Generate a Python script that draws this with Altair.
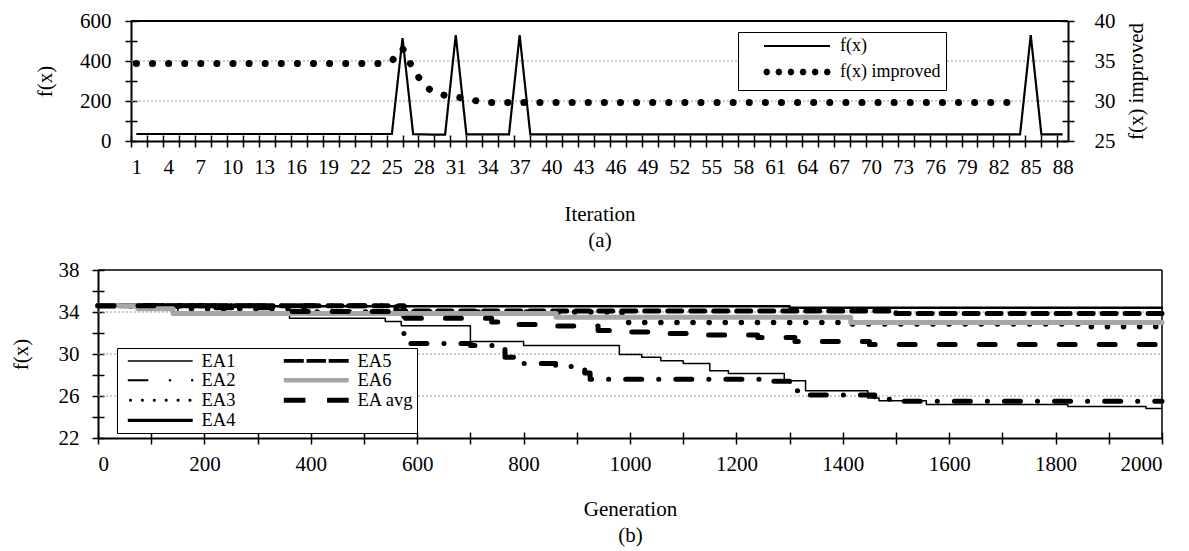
import altair as alt
import pandas as pd

FONT = "Liberation Serif"
GRAY = "#a6a6a6"
GRID_COLOR = "#9a9a9a"

# ---------------- (a) values ----------------
ITERATIONS = list(range(1, 89))
FX = ([35] * 25 + [515, 34, 33, 32, 32, 530] + [33] * 5 + [530] + [33] * 47
      + [530, 33, 33, 33])
IMPROVED_ITER = list(range(1, 85))
FX_IMPROVED = ([34.7] * 24 + [35.0, 36.6, 34.0, 32.0, 31.0, 30.7, 30.5, 30.3, 30.0]
               + [29.8] * 51)
A_LABEL_POS = list(range(1, 89, 3))
A_TICK_POS = [0.5 + 1.5 * k for k in range(59)]
A_LEFT_TICKS = [0, 100, 200, 300, 400, 500, 600]
A_RIGHT_TICKS = [25, 27.5, 30, 32.5, 35, 37.5, 40]
A_GRID = [200, 400]
A_TOP = [600]
A_SERIES = ["f(x)", "f(x) improved"]

# ---------------- (b) values ----------------
B_SERIES = ["EA1", "EA2", "EA3", "EA4", "EA5", "EA6", "EA avg"]
EA1_GEN = [0, 150, 360, 540, 570, 700, 800, 980, 1022, 1058, 1100, 1150, 1185,
           1290, 1330, 1447, 1468, 1557, 1823, 1970, 2000]
EA1_VAL = [34.6, 34.0, 33.4, 33.1, 32.7, 31.2, 30.8, 29.95, 29.7, 29.35, 29.1,
           28.4, 28.15, 27.45, 26.5, 25.8, 25.55, 25.2, 25.0, 24.8, 24.8]
EA2_GEN = [0, 575, 700, 765, 790, 860, 915, 925, 1265, 1300, 1320, 1460, 1500, 2000]
EA2_VAL = [34.6, 31.0, 30.8, 29.7, 29.1, 28.8, 28.2, 27.6, 27.4, 26.5, 26.1,
           25.7, 25.5, 25.5]
EA3_GEN = [0, 150, 400, 985, 1400, 1850, 2000]
EA3_VAL = [34.6, 34.3, 34.0, 33.0, 32.85, 32.6, 32.6]
EA4_GEN = [0, 300, 1300, 2000]
EA4_VAL = [34.7, 34.55, 34.4, 34.4]
EA5_GEN = [0, 560, 1500, 2000]
EA5_VAL = [34.6, 34.1, 33.85, 33.85]
EA6_GEN = [0, 75, 141, 861, 1415, 2000]
EA6_VAL = [34.6, 34.3, 33.85, 33.5, 33.0, 33.0]
EAAVG_GEN = [0, 200, 350, 575, 740, 790, 860, 940, 995, 1060, 1140, 1240, 1310,
             1450, 2000]
EAAVG_VAL = [34.6, 34.4, 34.05, 33.4, 33.05, 32.8, 32.67, 32.25, 32.1, 31.95,
             31.8, 31.56, 31.2, 30.9, 30.9]
B_X_TICKS = list(range(0, 2001, 100))
B_Y_TICKS = [22, 24, 26, 28, 30, 32, 34, 36, 38]
B_GRID = [26, 30, 34]
B_TOP = [38]
B_RIGHT = [2000]

B_COLORS = ["black", "black", "black", "black", "black", GRAY, "black"]
B_DASHES = [[1, 0], [16, 17, 0.1, 17], [0.1, 16], [1, 0], [14, 9], [1, 0], [16, 24]]
B_WIDTHS = [1.5, 5, 5.5, 2.5, 5, 5, 5]


# legend symbol paths (unit box, scaled by Vega): tiny octagons stroked thick = dots
def dots(xs, r=0.03):
    k = r * 0.7071
    out = []
    for x in xs:
        pts = [(x + r, 0), (x + k, k), (x, r), (x - k, k), (x - r, 0),
               (x - k, -k), (x, -r), (x + k, -k)]
        out.append("M" + "L".join(f"{px:.4f},{py:.4f}" for px, py in pts) + "Z")
    return "".join(out)


SOLID_PATH = "M-6,0L6,0"
DOT_PATH = dots([-5.5, -3.3, -1.1, 1.1, 3.3, 5.5])
B_PATHS = [
    SOLID_PATH,
    "M-6,0L-2.2,0" + dots([1.8, 5.9]),
    DOT_PATH,
    SOLID_PATH,
    "M-6,0L-2.3,0M-1.8,0L1.8,0M2.3,0L6,0",
    SOLID_PATH,
    "M-6,0L-2,0M2,0L6,0",
]

common = dict(labelFont=FONT, labelFontSize=21, labelColor="black",
              titleFont=FONT, titleFontSize=21, titleColor="black",
              titleFontWeight="normal", grid=False)
tick_only = dict(labels=False, domain=False, ticks=True, tickSize=12,
                 tickWidth=1.5, tickColor="black", title=None, grid=False)

# ---------------- chart (a) ----------------
df_fx = pd.DataFrame({"iter": ITERATIONS, "val": FX, "series": A_SERIES[0]})
df_imp = pd.DataFrame({"iter": IMPROVED_ITER, "val": FX_IMPROVED, "series": A_SERIES[1]})
df_a_all = pd.concat([df_fx, df_imp], ignore_index=True)

xa = alt.Scale(domain=[0.5, 88.5], range=[33, 970], nice=False, zero=False)
ya_left = alt.Scale(domain=[0, 600], nice=False, zero=False)
ya_right = alt.Scale(domain=[25, 40], nice=False, zero=False)

AX_A_TICKS = alt.Axis(orient="bottom", values=A_TICK_POS, offset=-6, **tick_only)
AX_A_LEFT_TICKS = alt.Axis(orient="left", values=A_LEFT_TICKS, offset=-39, **tick_only)
AX_A_LEFT = alt.Axis(orient="left", offset=-33, values=A_LEFT_TICKS, ticks=False,
                     labelExpr="datum.value % 200 == 0 ? datum.label : ''",
                     domainColor="black", domainWidth=2, labelPadding=20,
                     title="f(x)", titleX=-86, titleY=60, titleAngle=270,
                     titleAlign="center", titleBaseline="middle", **common)
AX_A_LABELS = alt.Axis(orient="bottom", values=A_LABEL_POS, ticks=False, domain=True,
                       domainColor="black", domainWidth=2, labelPadding=15,
                       title=["Iteration", "(a)"], titlePadding=26,
                       titleLineHeight=26, **common)
AX_A_RIGHT = alt.Axis(orient="right", values=A_RIGHT_TICKS, ticks=False,
                      labelExpr="datum.value % 5 == 0 ? datum.label : ''",
                      domainColor="black", domainWidth=2, labelPadding=26,
                      title="f(x) improved", titleX=68, titleY=60, titleAngle=270,
                      titleAlign="center", titleBaseline="middle", **common)
AX_A_RIGHT_TICKS = alt.Axis(orient="right", values=A_RIGHT_TICKS, offset=-6, **tick_only)

legend_a = alt.Legend(title=None, orient="none", legendX=640, legendY=11,
                      symbolSize=121, symbolStrokeColor="black",
                      labelFont=FONT, labelFontSize=18, labelColor="black",
                      padding=5, rowPadding=4, labelOffset=34, symbolOffset=45,
                      strokeColor="black", fillColor="white")

grid_a = alt.Chart(pd.DataFrame({"g": A_GRID})).mark_rule(
    color=GRID_COLOR, strokeDash=[2, 2], strokeWidth=1
).encode(
    x=alt.X(datum=0.5, type="quantitative", scale=xa, axis=AX_A_TICKS),
    x2=alt.X2(datum=88.5),
    y=alt.Y("g:Q", scale=ya_left, axis=AX_A_LEFT_TICKS),
)
top_a = alt.Chart(pd.DataFrame({"t": A_TOP})).mark_rule(
    color="black", strokeWidth=2
).encode(
    x=alt.X(datum=0.5, type="quantitative", scale=xa, axis=AX_A_TICKS),
    x2=alt.X2(datum=88.5),
    y=alt.Y("t:Q", scale=ya_left, axis=None),
)
fx_line = alt.Chart(df_fx).mark_line(color="black", strokeWidth=2.2).encode(
    x=alt.X("iter:Q", scale=xa, axis=AX_A_TICKS),
    y=alt.Y("val:Q", scale=ya_left, axis=AX_A_LEFT),
)
hidden_a = alt.Chart(df_a_all).mark_point(opacity=0, filled=False).encode(
    x=alt.X("iter:Q", scale=xa, axis=AX_A_TICKS),
    y=alt.Y("val:Q", scale=ya_left, axis=None),
    shape=alt.Shape("series:N", scale=alt.Scale(domain=A_SERIES,
                                                range=[SOLID_PATH, DOT_PATH]),
                    legend=legend_a),
    strokeWidth=alt.StrokeWidth("series:N", scale=alt.Scale(domain=A_SERIES,
                                                            range=[2.2, 6]),
                                legend=legend_a),
    color=alt.value("black"),
)
imp_line = alt.Chart(df_imp).mark_line(
    color="black", strokeDash=[0.1, 16], strokeWidth=7, strokeCap="round"
).encode(
    x=alt.X("iter:Q", scale=xa, axis=AX_A_LABELS),
    y=alt.Y("val:Q", scale=ya_right, axis=AX_A_RIGHT),
)
imp_ticks = alt.Chart(df_imp).mark_line(opacity=0).encode(
    x=alt.X("iter:Q", scale=xa, axis=AX_A_LABELS),
    y=alt.Y("val:Q", scale=ya_right, axis=AX_A_RIGHT_TICKS),
)

left_group = alt.layer(grid_a, top_a, fx_line, hidden_a).resolve_axis(y="independent")
right_group = alt.layer(imp_line, imp_ticks).resolve_axis(y="independent")

chart_a = (
    alt.layer(left_group, right_group)
    .resolve_scale(y="independent")
    .resolve_axis(x="independent", y="independent")
    .properties(width=970, height=120)
)

# ---------------- chart (b) ----------------
B_GENS = [EA1_GEN, EA2_GEN, EA3_GEN, EA4_GEN, EA5_GEN, EA6_GEN, EAAVG_GEN]
B_VALS = [EA1_VAL, EA2_VAL, EA3_VAL, EA4_VAL, EA5_VAL, EA6_VAL, EAAVG_VAL]
frames = [pd.DataFrame({"gen": g, "val": v, "series": n})
          for n, g, v in zip(B_SERIES, B_GENS, B_VALS)]
df_b = pd.concat(frames, ignore_index=True)

xb = alt.Scale(domain=[0, 2000], nice=False, zero=False)
yb = alt.Scale(domain=[22, 38], nice=False, zero=False)

AX_B_X = alt.Axis(orient="bottom", values=B_X_TICKS, format="d", ticks=False,
                  domainColor="black", domainWidth=2, labelPadding=15,
                  title=["Generation", "(b)"], titlePadding=24,
                  titleLineHeight=26, **common)
AX_B_X_TICKS = alt.Axis(orient="bottom", values=B_X_TICKS, offset=-6, **tick_only)
AX_B_Y = alt.Axis(orient="left", values=B_Y_TICKS, ticks=False,
                  labelExpr="datum.value % 4 == 2 ? datum.label : ''",
                  domainColor="black", domainWidth=2, labelPadding=19,
                  title="f(x)", titleX=-77, titleY=84, titleAngle=270,
                  titleAlign="center", titleBaseline="middle", **common)
AX_B_Y_TICKS = alt.Axis(orient="left", values=B_Y_TICKS, offset=-6, **tick_only)

legend_b = alt.Legend(title=None, orient="none", legendX=19, legendY=78,
                      columns=2, symbolSize=117, labelFont=FONT, labelFontSize=18.5,
                      labelColor="black", padding=3, rowPadding=-1.5,
                      columnPadding=15, labelOffset=32, symbolOffset=31,
                      gridAlign="all", strokeColor="black", fillColor="white")

grid_b = alt.Chart(pd.DataFrame({"g": B_GRID})).mark_rule(
    color=GRID_COLOR, strokeDash=[2, 2], strokeWidth=1
).encode(
    x=alt.X(datum=0, type="quantitative", scale=xb, axis=AX_B_X_TICKS),
    x2=alt.X2(datum=2000),
    y=alt.Y("g:Q", scale=yb, axis=AX_B_Y_TICKS),
)
top_b = alt.Chart(pd.DataFrame({"t": B_TOP})).mark_rule(
    color="black", strokeWidth=1.5
).encode(
    x=alt.X(datum=0, type="quantitative", scale=xb, axis=None),
    x2=alt.X2(datum=2000),
    y=alt.Y("t:Q", scale=yb, axis=None),
)
right_b = alt.Chart(pd.DataFrame({"r": B_RIGHT})).mark_rule(
    color="black", strokeWidth=1.5
).encode(
    x=alt.X("r:Q", scale=xb, axis=None),
    y=alt.Y(datum=22, type="quantitative", scale=yb, axis=None),
    y2=alt.Y2(datum=38),
)

series_layers = []
for frame, color, dash, width in zip(frames, B_COLORS, B_DASHES, B_WIDTHS):
    series_layers.append(
        alt.Chart(frame).mark_line(
            interpolate="step-after", strokeCap="round", strokeJoin="round",
            color=color, strokeDash=dash, strokeWidth=width,
        ).encode(
            x=alt.X("gen:Q", scale=xb, axis=None),
            y=alt.Y("val:Q", scale=yb, axis=None),
        )
    )

hidden_b = alt.Chart(df_b).mark_point(opacity=0, filled=False).encode(
    x=alt.X("gen:Q", scale=xb, axis=AX_B_X),
    y=alt.Y("val:Q", scale=yb, axis=AX_B_Y),
    shape=alt.Shape("series:N", scale=alt.Scale(domain=B_SERIES, range=B_PATHS),
                    legend=legend_b),
    color=alt.Color("series:N", scale=alt.Scale(domain=B_SERIES, range=B_COLORS),
                    legend=legend_b),
    strokeWidth=alt.StrokeWidth("series:N", scale=alt.Scale(domain=B_SERIES,
                                                            range=B_WIDTHS),
                                legend=legend_b),
)

chart_b = (
    alt.layer(grid_b, top_b, right_b, *series_layers, hidden_b)
    .resolve_axis(x="independent", y="independent")
    .properties(width=1064, height=168)
)

chart = (
    alt.vconcat(chart_a, chart_b, spacing=129, bounds="flush")
    .resolve_scale(shape="independent", strokeWidth="independent",
                   color="independent")
    .properties(padding={"left": 10, "top": 10, "right": 5, "bottom": 5})
    .configure(font=FONT)
    .configure_view(stroke=None)
)

chart.save("out.html", embed_options={"renderer": "svg", "actions": False})
